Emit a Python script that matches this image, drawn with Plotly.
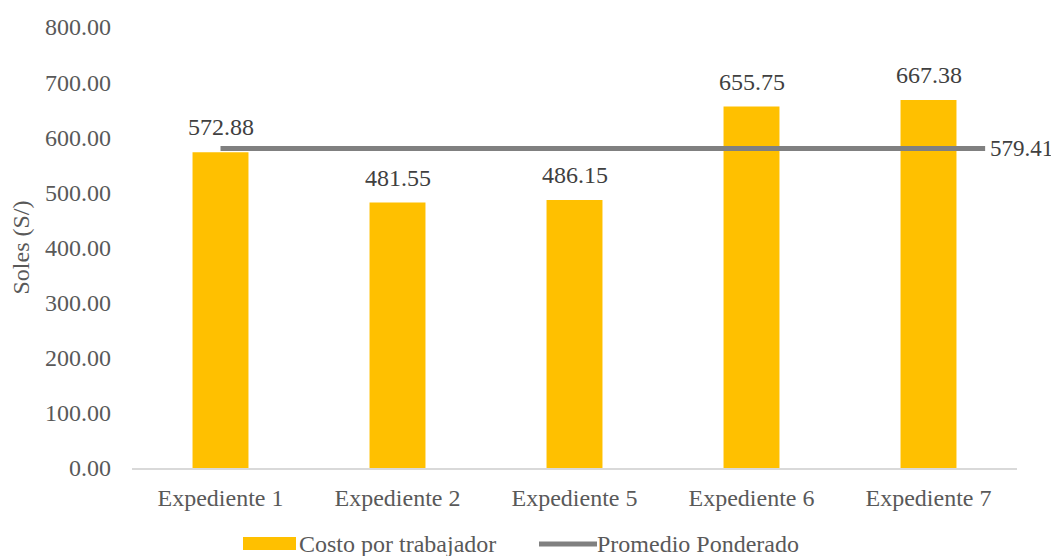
import plotly.graph_objects as go

categorias = ["Expediente 1", "Expediente 2", "Expediente 5", "Expediente 6", "Expediente 7"]
costo_por_trabajador = [572.88, 481.55, 486.15, 655.75, 667.38]
promedio_ponderado = 579.41
# line spans from first category to just past the last one (category index units)
promedio_x = [0, 4.32]
y_ticks = [0, 100, 200, 300, 400, 500, 600, 700, 800]

FONT = "Liberation Serif, Times New Roman, serif"
GRAY_TXT = "#595959"
LABEL_TXT = "#404040"
BAR_COLOR = "#FFC000"
LINE_COLOR = "#808080"
FS = 24

# the page body adds an 8px margin, so the figure is 8px smaller and shifted
PAGE_OFF = 8
ML, MT, MR, MB = 132 - PAGE_OFF, 27 - PAGE_OFF, 42, 88
PLOT_W, PLOT_H = 885, 441

idx = list(range(len(categorias)))

fig = go.Figure()
fig.add_trace(go.Bar(
    x=idx, y=costo_por_trabajador, name="Costo por trabajador",
    marker=dict(color=BAR_COLOR, line=dict(width=0)),
    width=0.316, showlegend=False,
))
fig.add_trace(go.Scatter(
    x=promedio_x, y=[promedio_ponderado] * len(promedio_x), name="Promedio Ponderado",
    mode="lines", line=dict(color=LINE_COLOR, width=5),
    cliponaxis=False, showlegend=False,
))
fig.add_annotation(x=promedio_x[-1], y=promedio_ponderado, text=f"{promedio_ponderado:.2f}",
                   showarrow=False, xanchor="left", yanchor="middle", xshift=4, borderpad=0,
                   font=dict(family=FONT, size=23, color=LABEL_TXT))

# data labels above bars
for i, v in zip(idx, costo_por_trabajador):
    fig.add_annotation(x=i, y=v, text=f"{v:.2f}", showarrow=False,
                       yanchor="bottom", yshift=10,
                       font=dict(family=FONT, size=FS, color=LABEL_TXT))

# custom legend (wide swatch like the reference); pixel positions relative to the window
def px_to_paper_x(px):
    return (px - 132) / float(PLOT_W)

def px_to_paper_y(py):
    return (468 - py) / float(PLOT_H)

fig.add_shape(type="rect", xref="paper", yref="paper",
              x0=px_to_paper_x(243), x1=px_to_paper_x(296),
              y0=px_to_paper_y(550), y1=px_to_paper_y(537),
              fillcolor=BAR_COLOR, line=dict(width=0))
fig.add_annotation(xref="paper", yref="paper", x=px_to_paper_x(297), y=px_to_paper_y(544),
                   text="Costo por trabajador", showarrow=False, xanchor="left", yanchor="middle",
                   font=dict(family=FONT, size=FS, color=GRAY_TXT))
fig.add_shape(type="line", xref="paper", yref="paper",
              x0=px_to_paper_x(539), x1=px_to_paper_x(597),
              y0=px_to_paper_y(544), y1=px_to_paper_y(544),
              line=dict(color=LINE_COLOR, width=5))
fig.add_annotation(xref="paper", yref="paper", x=px_to_paper_x(595), y=px_to_paper_y(544),
                   text="Promedio Ponderado", showarrow=False, xanchor="left", yanchor="middle",
                   font=dict(family=FONT, size=FS, color=GRAY_TXT))

fig.update_layout(
    width=ML + PLOT_W + MR, height=MT + PLOT_H + MB,
    margin=dict(l=ML, r=MR, t=MT, b=MB),
    paper_bgcolor="white", plot_bgcolor="white",
    font=dict(family=FONT, size=FS, color=GRAY_TXT),
    showlegend=False,
)
fig.update_xaxes(
    range=[-0.5, 4.5], tickmode="array", tickvals=idx, ticktext=categorias,
    showgrid=False, zeroline=False, showline=True, linecolor="#D9D9D9", linewidth=2,
    ticks="", tickfont=dict(family=FONT, size=FS, color=GRAY_TXT),
    automargin=False, ticklabelstandoff=7,
)
fig.update_yaxes(
    range=[0, 800], tickmode="array", tickvals=y_ticks,
    ticktext=[f"{v:.2f}" for v in y_ticks],
    showgrid=False, zeroline=False, showline=False, ticks="",
    tickfont=dict(family=FONT, size=FS, color=GRAY_TXT),
    automargin=False, ticklabelstandoff=20,
    title=dict(text="Soles (S/)", font=dict(family=FONT, size=FS, color=GRAY_TXT), standoff=12),
)

fig.write_html("out.html")
